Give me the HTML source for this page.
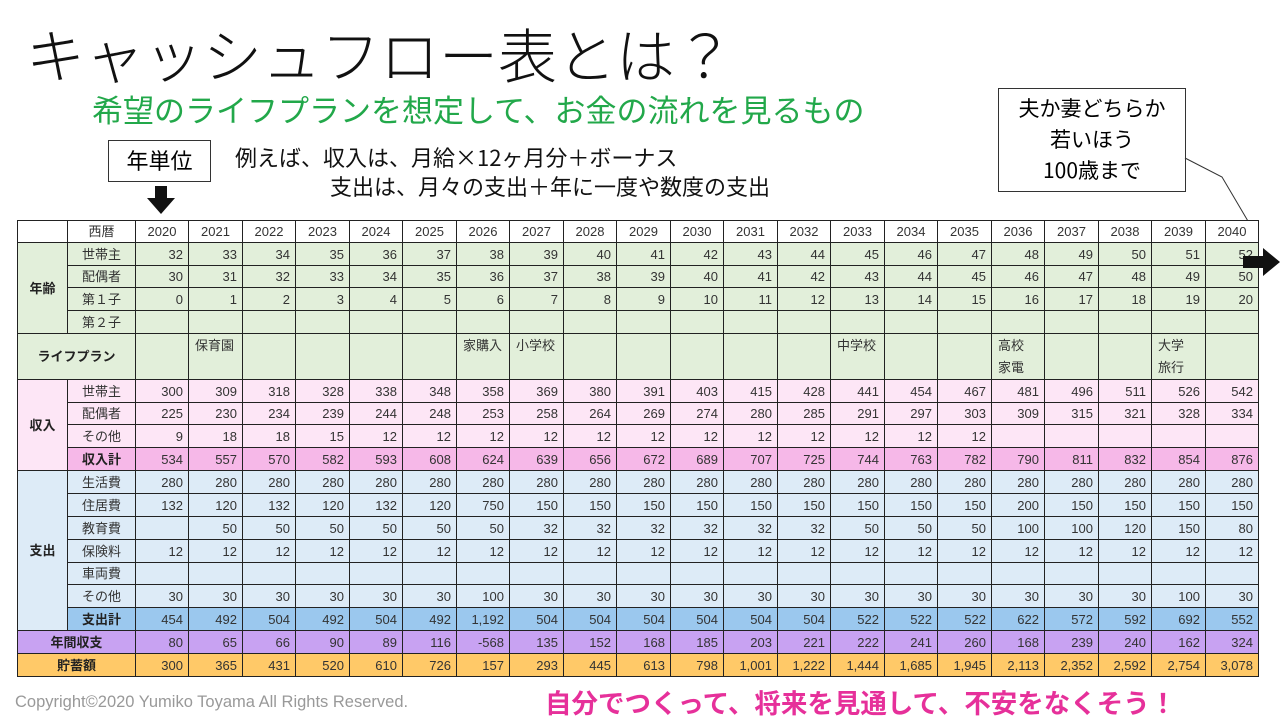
<!DOCTYPE html>
<html><head><meta charset="utf-8">
<style>
body{margin:0;width:1280px;height:720px;background:#fff;position:relative;overflow:hidden;font-family:"Liberation Sans","Noto Sans CJK JP",sans-serif;}
.a{position:absolute;}
.c{position:absolute;box-sizing:border-box;border-right:1px solid #222;border-bottom:1px solid #222;font-size:13px;color:#333;white-space:nowrap;overflow:hidden;}
.r{text-align:right;padding-right:5px;}
.m{text-align:center;}
.b{font-weight:bold;color:#222;}
</style></head><body>
<div class="a" style="left:26px;top:10px;font-size:59px;color:#111;font-family:'Noto Sans CJK JP',sans-serif;font-weight:300;white-space:nowrap;">キャッシュフロー表とは？</div>
<div class="a" style="left:92px;top:86px;font-size:31px;color:#22a84a;font-family:'Noto Sans CJK JP',sans-serif;white-space:nowrap;">希望のライフプランを想定して、お金の流れを見るもの</div>
<div class="a" style="left:108px;top:140px;width:103px;height:42px;box-sizing:border-box;border:1.5px solid #333;font-size:22px;text-align:center;line-height:38px;font-family:'Noto Sans CJK JP',sans-serif;">年単位</div>
<svg class="a" style="left:145px;top:186px" width="32" height="30"><polygon points="10,0 22,0 22,12 30,12 16,28 2,12 10,12" fill="#111"/></svg>
<div class="a" style="left:235px;top:143px;font-size:22px;color:#111;line-height:29px;font-family:'Noto Sans CJK JP',sans-serif;white-space:nowrap;">例えば、収入は、月給×12ヶ月分＋ボーナス<br><span style="padding-left:95px">支出は、月々の支出＋年に一度や数度の支出</span></div>
<div class="a" style="left:998px;top:88px;width:188px;height:104px;box-sizing:border-box;border:1px solid #333;font-size:21px;text-align:center;line-height:31px;padding-top:4px;font-family:'Noto Sans CJK JP',sans-serif;">夫か妻どちらか<br>若いほう<br>100歳まで</div>
<svg class="a" style="left:0;top:0" width="1280" height="720"><polyline points="1185,158 1222,177 1255,233" fill="none" stroke="#333" stroke-width="1"/></svg>
<div id="tbl"></div>
<svg class="a" style="left:1243px;top:248px" width="37" height="28"><polygon points="0,8 20,8 20,0 37,14 20,28 20,20 0,20" fill="#111"/></svg>
<div class="a" style="left:15px;top:693px;font-size:16.5px;color:#999;white-space:nowrap;">Copyright©2020 Yumiko Toyama All Rights Reserved.</div>
<div class="a" style="left:545px;top:682px;font-size:26.5px;font-weight:bold;color:#e6309a;font-family:'Noto Sans CJK JP',sans-serif;white-space:nowrap;">自分でつくって、将来を見通して、不安をなくそう！</div>
<script>
const years=[2020,2021,2022,2023,2024,2025,2026,2027,2028,2029,2030,2031,2032,2033,2034,2035,2036,2037,2038,2039,2040];
const ageHead=[32,33,34,35,36,37,38,39,40,41,42,43,44,45,46,47,48,49,50,51,52];
const ageSpouse=[30,31,32,33,34,35,36,37,38,39,40,41,42,43,44,45,46,47,48,49,50];
const ageChild1=[0,1,2,3,4,5,6,7,8,9,10,11,12,13,14,15,16,17,18,19,20];
const ageChild2=[];
const lifePlan=["","保育園","","","","","家購入","小学校","","","","","","中学校","","","高校<br>家電","","","大学<br>旅行",""];
const incHead=[300,309,318,328,338,348,358,369,380,391,403,415,428,441,454,467,481,496,511,526,542];
const incSpouse=[225,230,234,239,244,248,253,258,264,269,274,280,285,291,297,303,309,315,321,328,334];
const incOther=[9,18,18,15,12,12,12,12,12,12,12,12,12,12,12,12];
const incTotal=[534,557,570,582,593,608,624,639,656,672,689,707,725,744,763,782,790,811,832,854,876];
const expLiving=[280,280,280,280,280,280,280,280,280,280,280,280,280,280,280,280,280,280,280,280,280];
const expHousing=[132,120,132,120,132,120,750,150,150,150,150,150,150,150,150,150,200,150,150,150,150];
const expEdu=["",50,50,50,50,50,50,32,32,32,32,32,32,50,50,50,100,100,120,150,80];
const expIns=[12,12,12,12,12,12,12,12,12,12,12,12,12,12,12,12,12,12,12,12,12];
const expCar=[];
const expOther=[30,30,30,30,30,30,100,30,30,30,30,30,30,30,30,30,30,30,30,100,30];
const expTotal=["454","492","504","492","504","492","1,192","504","504","504","504","504","504","522","522","522","622","572","592","692","552"];
const annual=[80,65,66,90,89,116,-568,135,152,168,185,203,221,222,241,260,168,239,240,162,324];
const savings=["300","365","431","520","610","726","157","293","445","613","798","1,001","1,222","1,444","1,685","1,945","2,113","2,352","2,592","2,754","3,078"];

const T=document.getElementById('tbl');
const X0=18,X1=68,X2=136,CW=(1259-136)/21;
function cell(x,y,w,h,html,cls,bg,name){
  const d=document.createElement('div');
  d.className='c '+cls;
  d.style.cssText=`left:${x}px;top:${y}px;width:${w}px;height:${h}px;line-height:${h}px;background:${bg};`;
  d.innerHTML=html;
  
  
  T.appendChild(d);return d;
}
const G='#e2efda',P='#fde6f6',PT='#f6b8e8',B='#ddebf7',BT='#9bc8ee',V='#c8a2f2',O='#ffc968';
const f=document.createElement('div');f.className='a';f.style.cssText=`left:${X0-1}px;top:220px;width:${1259-X0+1}px;height:457px;border-left:1px solid #222;border-top:1px solid #222;box-sizing:border-box;`;


T.appendChild(f);
let y=221;
function row(label,arr,h,bg,labBold,name,labBg,opt){
  cell(X1,y,X2-X1,h,label,'m'+(labBold?' b':''),labBg||bg,name+'-label');
  for(let i=0;i<21;i++){
    const v=arr[i]===undefined?'':arr[i];
    cell(Math.round(X2+i*CW),y,Math.round(X2+(i+1)*CW)-Math.round(X2+i*CW),h,String(v),opt||'r',bg,name+'-'+years[i]);
  }
  const y0=y;y+=h;return y0;
}
cell(X0,y,X1-X0,22,'','', '#fff','corner');
row('西暦',years,22,'#fff',false,'year-header',null,'m');
const ys=y;
row('世帯主',ageHead,23,G,false,'age-head');
row('配偶者',ageSpouse,22,G,false,'age-spouse');
row('第１子',ageChild1,23,G,false,'age-child1');
row('第２子',ageChild2,23,G,false,'age-child2');
cell(X0,ys,X1-X0,y-ys,'年齢','m b',G,'age-group');
const lh=46;
cell(X0,y,X2-X0,lh,'ライフプラン','m b',G,'life-plan-label');
for(let i=0;i<21;i++){const c=cell(Math.round(X2+i*CW),y,Math.round(X2+(i+1)*CW)-Math.round(X2+i*CW),lh,lifePlan[i],'',G,'life-plan-'+years[i]);c.style.lineHeight='22px';c.style.paddingLeft='6px';c.style.paddingTop='1px';}
y+=lh;
const yi=y;
row('世帯主',incHead,23,P,false,'income-head');
row('配偶者',incSpouse,22,P,false,'income-spouse');
row('その他',incOther,23,P,false,'income-other');
row('収入計',incTotal,23,PT,true,'income-total');
cell(X0,yi,X1-X0,y-yi,'収入','m b',P,'income-group');
const ye=y;
row('生活費',expLiving,23,B,false,'exp-living');
row('住居費',expHousing,23,B,false,'exp-housing');
row('教育費',expEdu,23,B,false,'exp-education');
row('保険料',expIns,23,B,false,'exp-insurance');
row('車両費',expCar,22,B,false,'exp-car');
row('その他',expOther,23,B,false,'exp-other');
row('支出計',expTotal,23,BT,true,'exp-total');
cell(X0,ye,X1-X0,y-ye,'支出','m b',B,'expense-group');
cell(X0,y,X2-X0,23,'年間収支','m b',V,'annual-label');
for(let i=0;i<21;i++)cell(Math.round(X2+i*CW),y,Math.round(X2+(i+1)*CW)-Math.round(X2+i*CW),23,String(annual[i]),'r',V,'annual-'+years[i]);
y+=23;
cell(X0,y,X2-X0,23,'貯蓄額','m b',O,'savings-label');
for(let i=0;i<21;i++)cell(Math.round(X2+i*CW),y,Math.round(X2+(i+1)*CW)-Math.round(X2+i*CW),23,savings[i],'r',O,'savings-'+years[i]);
</script>
</body></html>
